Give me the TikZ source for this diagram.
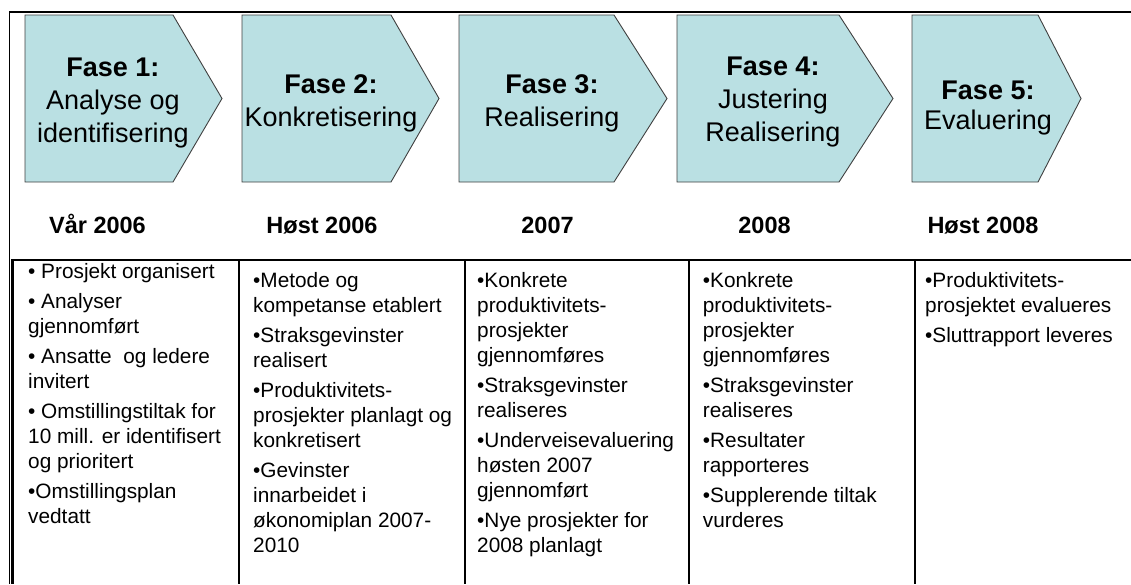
\documentclass[tikz,border=0pt]{standalone}
\usepackage{fontspec}
\setmainfont{Liberation Sans}
\definecolor{fasefarge}{RGB}{186,224,227}
\begin{document}
\begin{tikzpicture}[x=1pt,y=-1pt,
		fase/.style={draw=black!75,fill=fasefarge,line width=0.9pt},
		fasetekst/.style={anchor=north,align=center,inner sep=0pt,font=\fontsize{27}{33}\selectfont},
		aar/.style={anchor=base,inner sep=0pt,font=\fontsize{23.5}{28}\selectfont\bfseries},
		celle/.style={anchor=north west,align=left,inner sep=0pt,font=\fontsize{20.8}{25}\selectfont},
		tynn/.style={line width=1.3pt}, tykk/.style={line width=2.8pt}]
		\useasboundingbox (0,0) rectangle (1131,584);
		% ramme og tabell
		\draw[tynn] (1131,12) -- (9.5,12) -- (9.5,584);
		\draw[tykk] (11,260) -- (1131,260);
		\draw[tykk] (12.7,260) -- (12.7,584);
		\foreach \x in {239,465,689,915}
		\draw[tynn] (\x,260) -- (\x,584);
		% faser
		\foreach \l/\s/\t in {25/173/222,242/391/439,459/614/667,677/839/893,912/1038/1081}
		\draw[fase] (\l,15) -- (\s,15) -- (\t,98.5) -- (\s,182) -- (\l,182) -- cycle;
		\node[fasetekst] (fase1) at (113,57.7) {\textbf{Fase 1:}\\Analyse og\\identifisering};
		\node[fasetekst] (fase2) at (331,74) {\textbf{Fase 2:}\\Konkretisering};
		\node[fasetekst] (fase3) at (552,74) {\textbf{Fase 3:}\\Realisering};
		\node[fasetekst] (fase4) at (773,56.5) {\textbf{Fase 4:}\\Justering\\Realisering};
		\node[fasetekst, font=\fontsize{27}{30}\selectfont] (fase5) at (988,81) {\textbf{Fase 5:}\\Evaluering};
		% tidspunkt
		\node[aar] (aar1) at (97.5,233) {Vår 2006};
		\node[aar] (aar2) at (322,233) {Høst 2006};
		\node[aar] (aar3) at (547.5,233) {2007};
		\node[aar] (aar4) at (764.5,233) {2008};
		\node[aar] (aar5) at (983,233) {Høst 2008};
		% innhold
		\node[celle] (celle1) at (28,263) {• Prosjekt organisert\\[5pt]• Analyser\\gjennomført\\[5pt]• Ansatte\ \ og ledere\\invitert\\[5pt]• Omstillingstiltak for\\10 mill. er identifisert\\og prioritert\\[5pt]•Omstillingsplan\\vedtatt};
		\node[celle] (celle2) at (253,272) {•Metode og\\kompetanse etablert\\[5pt]•Straksgevinster\\realisert\\[5pt]•Produktivitets-\\prosjekter planlagt og\\konkretisert\\[5pt]•Gevinster\\innarbeidet i\\økonomiplan 2007-\\2010};
		\node[celle] (celle3) at (477,272) {•Konkrete\\produktivitets-\\prosjekter\\gjennomføres\\[5pt]•Straksgevinster\\realiseres\\[5pt]•Underveisevaluering\\høsten 2007\\gjennomført\\[5pt]•Nye prosjekter for\\2008 planlagt};
		\node[celle] (celle4) at (702.7,272) {•Konkrete\\produktivitets-\\prosjekter\\gjennomføres\\[5pt]•Straksgevinster\\realiseres\\[5pt]•Resultater\\rapporteres\\[5pt]•Supplerende tiltak\\vurderes};
		\node[celle] (celle5) at (925,272) {•Produktivitets-\\prosjektet evalueres\\[5pt]•Sluttrapport leveres};
\end{tikzpicture}
\end{document}
